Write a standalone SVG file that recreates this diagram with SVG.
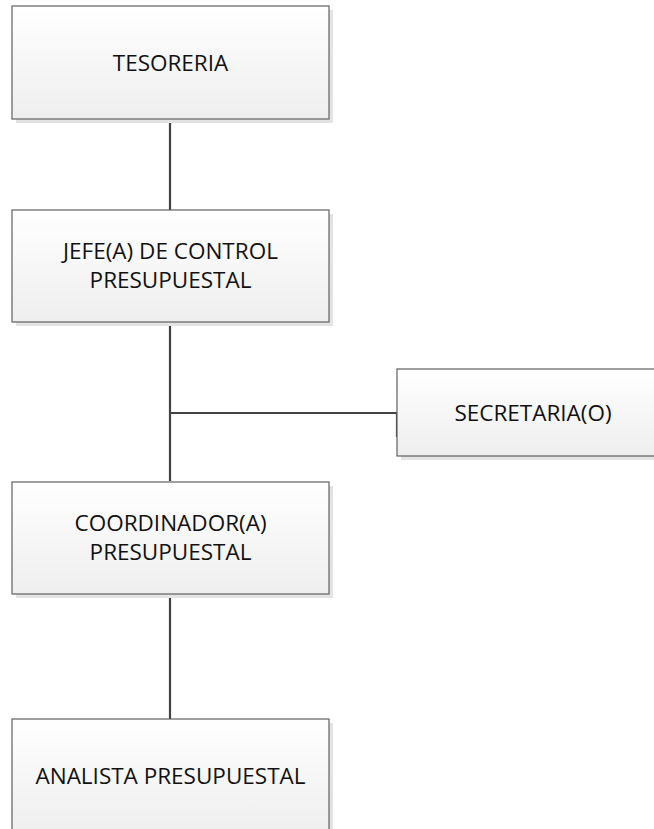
<svg xmlns="http://www.w3.org/2000/svg" width="654" height="829" viewBox="0 0 654 829">
  <defs>
    <linearGradient id="boxFill" x1="0" y1="0" x2="0" y2="1">
      <stop offset="0" stop-color="#ffffff"/>
      <stop offset="1" stop-color="#eeeeee"/>
    </linearGradient>
  </defs>
  <style>
    .shadow { fill: #e3e3e3; }
    .box { fill: url(#boxFill); stroke: #606060; stroke-width: 1.2; }
    .label { font-family: "Open Sans", "Liberation Sans", sans-serif; font-size: 22.5px; fill: #111111; text-anchor: middle; }
    .wire { fill: none; stroke: #424242; stroke-width: 2.2; }
  </style>
  <rect width="654" height="829" fill="#ffffff"/>

  <g id="connectors">
    <line class="wire" x1="170" y1="119" x2="170" y2="210"/>
    <line class="wire" x1="170" y1="322" x2="170" y2="481"/>
    <polyline class="wire" points="170,413 397,413 397,437"/>
    <line class="wire" x1="170" y1="594" x2="170" y2="719"/>
  </g>

  <g id="tesoreria">
    <rect class="shadow" x="16" y="10" width="317" height="113"/>
    <rect class="box" x="12" y="6" width="317" height="113"/>
    <text class="label" x="170.5" y="71">TESORERIA</text>
  </g>

  <g id="jefe-control">
    <rect class="shadow" x="16" y="214" width="317" height="112"/>
    <rect class="box" x="12" y="210" width="317" height="112"/>
    <text class="label" x="170.5" y="259">JEFE(A) DE CONTROL</text>
    <text class="label" x="170.5" y="288">PRESUPUESTAL</text>
  </g>

  <g id="secretaria">
    <rect class="shadow" x="401" y="373" width="272" height="87"/>
    <rect class="box" x="397" y="369" width="272" height="87"/>
    <text class="label" x="533" y="421">SECRETARIA(O)</text>
  </g>

  <g id="coordinador">
    <rect class="shadow" x="16" y="486" width="317" height="112"/>
    <rect class="box" x="12" y="482" width="317" height="112"/>
    <text class="label" x="170.5" y="531">COORDINADOR(A)</text>
    <text class="label" x="170.5" y="560">PRESUPUESTAL</text>
  </g>

  <g id="analista">
    <rect class="shadow" x="16" y="723" width="317" height="113"/>
    <rect class="box" x="12" y="719" width="317" height="113"/>
    <text class="label" x="170.5" y="784">ANALISTA PRESUPUESTAL</text>
  </g>
</svg>
